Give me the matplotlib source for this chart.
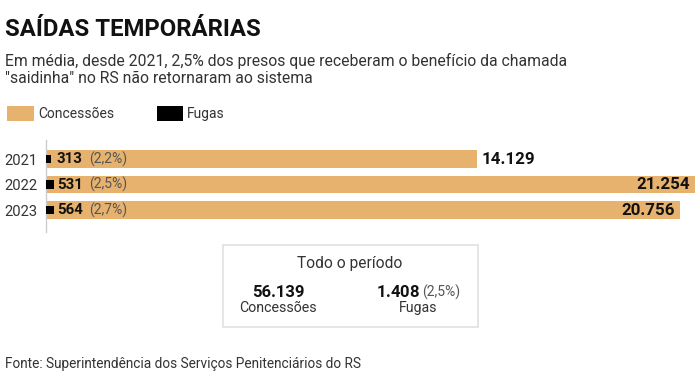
import matplotlib.pyplot as plt
from matplotlib.patches import Rectangle

plt.rcParams['font.family'] = ['Roboto', 'DejaVu Sans']

anos = ['2021', '2022', '2023']
concessoes = [14129, 21254, 20756]
fugas = [313, 531, 564]
pct = ['(2,2%)', '(2,5%)', '(2,7%)']
rotulos_conc = ['14.129', '21.254', '20.756']
total_conc = '56.139'
total_fugas = '1.408'
total_pct = '(2,5%)'

cor_bar = '#E6B26E'
W, H = 698, 389


def fx(x):
    return x / W


def fy(y):
    return 1 - y / H


fig = plt.figure(figsize=(W / 100, H / 100), dpi=100)
fig.patch.set_facecolor('white')

fig.text(fx(5), fy(36), 'SAÍDAS TEMPORÁRIAS', fontsize=17.2, fontweight='bold',
         color='#111111', va='baseline')
fig.text(fx(5), fy(66), 'Em média, desde 2021, 2,5% dos presos que receberam o benefício da chamada',
         fontsize=11.35, color='#333333', va='baseline')
fig.text(fx(5), fy(83), '"saidinha" no RS não retornaram ao sistema',
         fontsize=11.35, color='#333333', va='baseline')

# legenda
fig.patches.append(Rectangle((fx(7), fy(121)), fx(27), 15 / H, transform=fig.transFigure,
                             facecolor=cor_bar, edgecolor='none'))
fig.text(fx(38), fy(118), 'Concessões', fontsize=10, color='#333333', va='baseline')
fig.patches.append(Rectangle((fx(157), fy(121)), fx(26), 15 / H, transform=fig.transFigure,
                             facecolor='black', edgecolor='none'))
fig.text(fx(187), fy(118), 'Fugas', fontsize=10, color='#333333', va='baseline')

# barras
ax = fig.add_axes([fx(46), fy(232), fx(649), 92 / H])
y = list(range(len(anos)))
ax.barh(y, concessoes, height=0.7, color=cor_bar)
ax.set_xlim(0, max(concessoes))
ax.set_ylim(2.86, -0.745)
ax.set_xticks([])
ax.set_yticks(y)
ax.set_yticklabels(anos, fontsize=10.6, color='#333333')
ax.tick_params(axis='y', length=0, pad=6)
for s in ['top', 'right', 'bottom']:
    ax.spines[s].set_visible(False)
ax.spines['left'].set_color('#cccccc')
ax.spines['left'].set_linewidth(1)

ax2 = ax.twiny()
ax2.barh(y, fugas, height=0.32, color='black')
ax2.set_xlim(0, 45000)
ax2.set_ylim(2.86, -0.745)
ax2.axis('off')

for i in y:
    ax.annotate(f'{fugas[i]}', (0, i), xytext=(11, 0), textcoords='offset pixels',
                fontsize=10.8, fontweight='bold', color='#111111', va='center', ha='left')
    ax.annotate(pct[i], (0, i), xytext=(43, 0), textcoords='offset pixels',
                fontsize=10, color='#555555', va='center', ha='left')
    if concessoes[i] < 0.8 * max(concessoes):
        ax.annotate(rotulos_conc[i], (concessoes[i], i), xytext=(4, 0),
                    textcoords='offset pixels', fontsize=12.2, fontweight='bold',
                    color='#111111', va='center', ha='left')
    else:
        ax.annotate(rotulos_conc[i], (concessoes[i], i), xytext=(-5, 0),
                    textcoords='offset pixels', fontsize=12.2, fontweight='bold',
                    color='#111111', va='center', ha='right')

# caixa de totais
fig.patches.append(Rectangle((fx(223), fy(327)), fx(255), 82 / H, transform=fig.transFigure,
                             facecolor='white', edgecolor='#e0e0e0', linewidth=1.2))
fig.text(fx(350), fy(268), 'Todo o período', fontsize=11.2, color='#333333',
         ha='center', va='baseline')
fig.text(fx(278), fy(297), total_conc, fontsize=12, fontweight='bold', color='#111111',
         ha='center', va='baseline')
fig.text(fx(278), fy(312), 'Concessões', fontsize=10.2, color='#333333',
         ha='center', va='baseline')
fig.text(fx(420), fy(297), total_fugas + r'$\,$', fontsize=12, fontweight='bold',
         color='#111111', ha='right', va='baseline')
fig.text(fx(422), fy(297), total_pct, fontsize=10, color='#555555',
         ha='left', va='baseline')
fig.text(fx(418), fy(312), 'Fugas', fontsize=10.2, color='#333333',
         ha='center', va='baseline')

fig.text(fx(5), fy(368), 'Fonte: Superintendência dos Serviços Penitenciários do RS',
         fontsize=9.8, color='#333333', va='baseline')

fig.savefig('out.png', dpi=100, facecolor='white')
